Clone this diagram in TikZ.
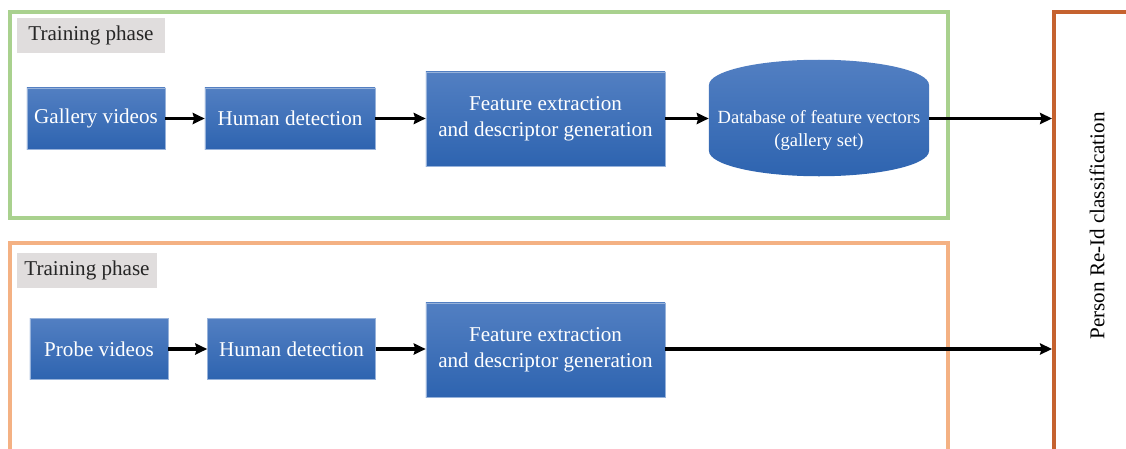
\documentclass[tikz,border=0pt]{standalone}
\usepackage{fontspec}
\setmainfont{Liberation Serif}
\usetikzlibrary{shapes.geometric,arrows.meta}
\definecolor{boxtop}{RGB}{82,127,194}
\definecolor{boxbot}{RGB}{46,100,176}
\definecolor{gallgreen}{RGB}{169,209,142}
\definecolor{probeorange}{RGB}{244,177,131}
\definecolor{clsbrown}{RGB}{197,98,47}
\definecolor{tagfill}{RGB}{224,221,221}
\tikzstyle{block}     = [rectangle, top color=boxtop, bottom color=boxbot, draw=boxtop!60, line width=0.4pt, text=white, align=center, font=\fontsize{15}{18.5}\selectfont, minimum height=1.525cm, inner sep=0pt]
\tikzstyle{db}        = [cylinder, shape border rotate=90, aspect=0.25, top color=boxtop, bottom color=boxbot, text=white, align=center, font=\fontsize{13.2}{16.5}\selectfont, minimum width=5.5cm, minimum height=2.9cm, inner sep=0pt]
\tikzstyle{tag}       = [rectangle, fill=tagfill, text=black!85, font=\fontsize{15}{18}\selectfont, minimum height=0.875cm, inner sep=0pt]
\tikzstyle{frame}     = [line width=2.8pt]
\tikzstyle{arrow}     = [line width=2.2pt,-{Stealth[length=3mm,width=2.8mm,inset=0.4mm]}]

\begin{document}
\begin{tikzpicture}[x=0.025cm,y=-0.025cm]
		\clip (0,0) rectangle (1126,448);
		\fill[white] (0,0) rectangle (1126,448);

		% phase frames
		\draw[frame, draw=gallgreen] (10,12) rectangle (948,218);
		\draw[frame, draw=probeorange] (10,243) rectangle (948,470);
		\node[tag, minimum width=3.7cm] (tag1) at (91,35.5) {Training phase};
		\node[tag, minimum width=3.5cm] (tag2) at (87,270.5) {Training phase};

		% classification
		\node[draw=clsbrown, frame, minimum width=2.15cm, minimum height=11.45cm] (cls) at (1097,241) {};
		\node[rotate=90, font=\fontsize{15}{18}\selectfont] (clstext) at (1097,226) {Person Re-Id classification};

		% gallery row
		\node[block, minimum width=3.45cm] (gallery) at (96,118.5) {Gallery videos};
		\node[block, minimum width=4.25cm] (human1) at (290,118.5) {Human detection};
		\node[block, minimum width=5.975cm, minimum height=2.35cm] (feat1) at (545.5,119) {Feature extraction\\and descriptor generation};
		\node[db, anchor=shape center] (gallerydb) at (819,118) {Database of feature vectors\\(gallery set)};

		% probe row
		\node[block, minimum width=3.45cm] (probe) at (99,349) {Probe videos};
		\node[block, minimum width=4.2cm] (human2) at (291.5,349) {Human detection};
		\node[block, minimum width=5.975cm, minimum height=2.35cm] (feat2) at (545.5,350) {Feature extraction\\and descriptor generation};

		\draw[arrow] (gallery) -- (human1);
		\draw[arrow] (human1) -- (human1 -| feat1.west);
		\draw[arrow] (feat1.east |- human1) -- (human1 -| gallerydb.west);
		\draw[arrow] (gallerydb.east |- human1) -- (human1 -| cls.west);

		\draw[arrow] (probe) -- (human2);
		\draw[arrow] (human2) -- (human2 -| feat2.west);
		\draw[arrow] (feat2.east |- human2) -- (human2 -| cls.west);
	\end{tikzpicture}
\end{document}
